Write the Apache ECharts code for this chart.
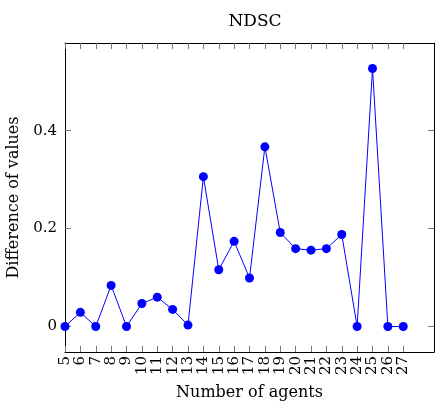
<!DOCTYPE html>
<html><head><meta charset="utf-8">
<script src="https://cdn.jsdelivr.net/npm/echarts@6/dist/echarts.min.js"></script>
<style>html,body{margin:0;padding:0;background:#fff}#c{width:435px;height:406px}</style>
</head><body><div id="c"></div>
<script>
const agents = [5,6,7,8,9,10,11,12,13,14,15,16,17,18,19,20,21,22,23,24,25,26,27];
const values = [0,0.029,0,0.084,0,0.047,0.060,0.035,0.003,0.306,0.116,0.174,0.099,0.367,0.192,0.159,0.156,0.159,0.188,0,0.527,0,0];
const yTicks = [0, 0.2, 0.4];
const padCats = ['', ''];
const cats = agents.map(String).concat(padCats);
const font = 'DejaVu Serif';
const chart = echarts.init(document.getElementById('c'), null, {renderer:'canvas'});
const tickShow = (i, v) => v !== '';
const baseX = {
  type:'category', data:cats, boundaryGap:false,
  axisLine:{show:true, onZero:false, lineStyle:{color:'#000', width:1}},
  axisTick:{show:true, inside:true, length:6, interval:tickShow, lineStyle:{color:'#777', width:1}},
  splitLine:{show:false}
};
chart.setOption({
  animation:false,
  title:{text:'NDSC', left:250, top:8, textAlign:'center',
    textStyle:{fontFamily:font, fontSize:17, fontWeight:'normal', color:'#000'}},
  grid:{left:65, top:43, right:1, bottom:54, outerBoundsMode:'none', containLabel:false},
  xAxis:[
    Object.assign({}, baseX, {position:'bottom',
      name:'Number of agents', nameLocation:'middle', nameGap:33,
      nameTextStyle:{fontFamily:font, fontSize:16, color:'#000'},
      axisLabel:{show:true, rotate:90, interval:0, margin:4, fontFamily:font, fontSize:15, color:'#000'}}),
    Object.assign({}, baseX, {position:'top', axisLabel:{show:false}})
  ],
  yAxis:[
    {type:'value', min:-0.052, max:0.579, position:'left',
     name:'Difference of values', nameLocation:'middle', nameGap:43,
     nameTextStyle:{fontFamily:font, fontSize:16, color:'#000'},
     axisLine:{show:true, lineStyle:{color:'#000', width:1}},
     axisTick:{show:true, inside:true, length:6, customValues:yTicks, lineStyle:{color:'#777'}},
     axisLabel:{show:true, customValues:yTicks, margin:8, fontFamily:font, fontSize:15, color:'#000',
       formatter:v=>String(+v.toFixed(1))},
     splitLine:{show:false}},
    {type:'value', min:-0.052, max:0.579, position:'right',
     axisLine:{show:true, lineStyle:{color:'#000', width:1}},
     axisTick:{show:true, inside:true, length:6, customValues:yTicks, lineStyle:{color:'#777'}},
     axisLabel:{show:false}, splitLine:{show:false}}
  ],
  series:[{type:'line', data:values, xAxisIndex:0, yAxisIndex:0,
    symbol:'circle', symbolSize:9, showSymbol:true,
    lineStyle:{color:'#0000ff', width:1}, itemStyle:{color:'#0000ff'}}]
});
</script></body></html>
